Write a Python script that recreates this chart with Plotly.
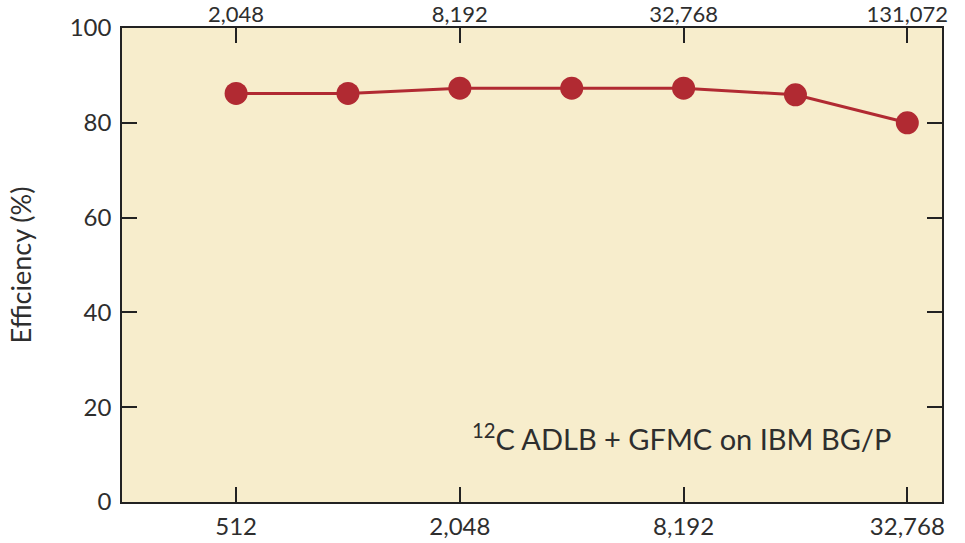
import math
import plotly.graph_objects as go

cores = [512, 1024, 2048, 4096, 8192, 16384, 32768]
efficiency = [86.2, 86.2, 87.3, 87.3, 87.3, 85.9, 80.0]

bottom_ticks = [512, 2048, 8192, 32768]
bottom_labels = ["512", "2,048", "8,192", "32,768"]
top_ticks = [2048, 8192, 32768, 131072]
top_labels = ["2,048", "8,192", "32,768", "131,072"]
y_ticks = [0, 20, 40, 60, 80, 100]

RED = "#b12a32"
FONT = "Lato"
TXT = "#2e2e2e"

lo = 7.98 * math.log10(2)
hi = 15.31 * math.log10(2)
shift = math.log10(4)

fig = go.Figure()
fig.add_trace(go.Scatter(
    x=cores, y=efficiency, mode="lines+markers",
    line=dict(color=RED, width=3),
    marker=dict(color=RED, size=23),
    showlegend=False, hoverinfo="x+y",
))
# invisible trace to activate top axis
fig.add_trace(go.Scatter(
    x=[top_ticks[0]], y=[None], xaxis="x2", showlegend=False, hoverinfo="skip",
))

axis_common = dict(
    showgrid=False, zeroline=False, ticks="inside", ticklen=15, tickwidth=1.5,
    tickcolor="#222", showline=True, linecolor="#222", linewidth=1.5,
    automargin=False,
)

fig.update_layout(
    width=965, height=543,
    paper_bgcolor="white", plot_bgcolor="#f7edcc",
    margin=dict(l=122, r=23, t=28, b=41),
    xaxis=dict(type="log", range=[lo, hi], tickmode="array",
               tickvals=bottom_ticks, ticktext=bottom_labels, mirror=False,
               ticklabelstandoff=2, tickfont=dict(family=FONT, size=24, color=TXT),
               **axis_common),
    xaxis2=dict(type="log", range=[lo + shift, hi + shift], overlaying="x",
                side="top", tickmode="array", tickvals=top_ticks,
                ticktext=top_labels, ticklabelstandoff=-5,
                tickfont=dict(family=FONT, size=22, color=TXT), **axis_common),
    yaxis=dict(range=[0, 100], tickmode="array", tickvals=y_ticks,
               mirror="ticks", ticklabelstandoff=4,
               tickfont=dict(family=FONT, size=24, color=TXT),
               title=dict(text="Efficiency (%)", font=dict(family=FONT, size=27, color=TXT),
                          standoff=30),
               **axis_common),
    annotations=[dict(
        text="<sup>12</sup>C ADLB + GFMC on IBM BG/P",
        xref="paper", yref="paper", x=0.94, y=0.137, xanchor="right", yanchor="middle",
        showarrow=False, font=dict(family=FONT, size=29, color=TXT),
    )],
)

fig.write_html("out.html", config={"displayModeBar": False},
               post_script="document.body.style.margin='0px';")
